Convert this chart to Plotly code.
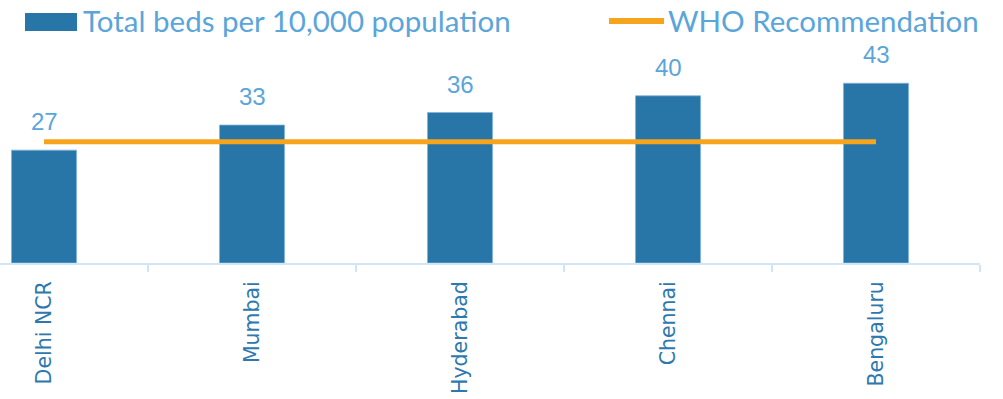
import plotly.graph_objects as go

# Data
cities = ["Delhi NCR", "Mumbai", "Hyderabad", "Chennai", "Bengaluru"]
beds_per_10k = [27, 33, 36, 40, 43]
who_recommendation = [29, 29, 29, 29, 29]
bar_series_name = "Total beds per 10,000 population"
line_series_name = "WHO Recommendation"

# Colours
BAR_BLUE = "#2876a8"
LABEL_BLUE = "#5aa5da"
TICK_BLUE = "#2e78b0"
AXIS_BLUE = "#d2e5f5"
WHO_ORANGE = "#f7a41d"

# Pixel geometry of the canvas
W, H = 1003, 399
ML, MR, MT, MB = 0, 23, 40, 136
plot_w = W - ML - MR
plot_h = H - MT - MB


def px_x(x):
    return (x - ML) / plot_w


def px_y(y):
    return (H - MB - y) / plot_h


fig = go.Figure()

fig.add_trace(go.Bar(
    x=cities,
    y=beds_per_10k,
    name=bar_series_name,
    marker=dict(color=BAR_BLUE, line=dict(color="#7fb3dc", width=0.8)),
    width=0.3125,
    showlegend=False,
))

fig.add_trace(go.Scatter(
    x=cities,
    y=who_recommendation,
    name=line_series_name,
    mode="lines",
    line=dict(color=WHO_ORANGE, width=5),
    showlegend=False,
))

# Value labels above the bars
for c, v in zip(cities, beds_per_10k):
    fig.add_annotation(
        x=c, y=v, text=str(v), showarrow=False,
        xanchor="center", yanchor="bottom", yshift=13,
        font=dict(family="Liberation Sans", size=24, color=LABEL_BLUE),
    )

# Legend drawn at the top
legend_font = dict(family="Lato", size=29.5, color=LABEL_BLUE)
fig.add_shape(type="rect", xref="paper", yref="paper",
              x0=px_x(25), x1=px_x(77), y0=px_y(31), y1=px_y(13),
              fillcolor=BAR_BLUE, line=dict(width=0))
fig.add_annotation(xref="paper", yref="paper", x=px_x(81), y=px_y(21),
                   text=bar_series_name, showarrow=False,
                   xanchor="left", yanchor="middle", font=legend_font)
fig.add_shape(type="line", xref="paper", yref="paper",
              x0=px_x(609), x1=px_x(664), y0=px_y(21), y1=px_y(21),
              line=dict(color=WHO_ORANGE, width=6))
fig.add_annotation(xref="paper", yref="paper", x=px_x(666), y=px_y(21),
                   text=line_series_name, showarrow=False,
                   xanchor="left", yanchor="middle", font=legend_font)

fig.update_layout(
    width=W, height=H,
    margin=dict(l=ML, r=MR, t=MT, b=MB, pad=0),
    paper_bgcolor="white", plot_bgcolor="white",
    template="none",
    showlegend=False,
)

fig.update_xaxes(
    type="category",
    range=[-44 / 208, 4.5],
    showline=True, linecolor=AXIS_BLUE, linewidth=2,
    ticks="outside", tickson="boundaries", ticklen=7, tickwidth=2, tickcolor=AXIS_BLUE,
    tickangle=-90,
    tickfont=dict(family="DejaVu Sans", size=20.5, color=TICK_BLUE),
    ticklabelstandoff=8,
    showgrid=False, zeroline=False, automargin=False,
)

fig.update_yaxes(
    range=[0, (H - MB - MT) / 4.18],
    visible=False, showgrid=False, zeroline=False, automargin=False,
)

fig.write_html("out.html")
